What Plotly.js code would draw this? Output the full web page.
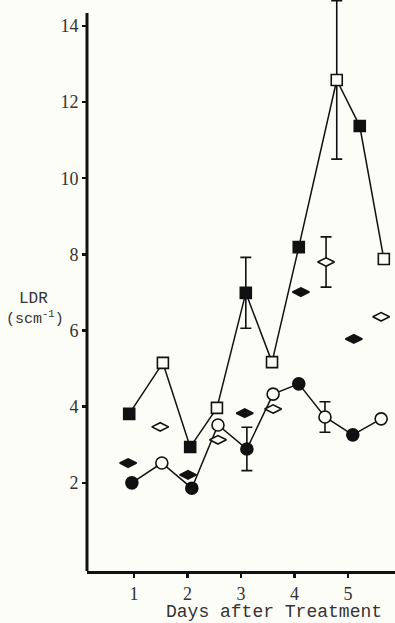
<!DOCTYPE html>
<html>
<head>
<meta charset="utf-8">
<script src="https://cdn.plot.ly/plotly-3.0.1.min.js"></script>
<style>
  html, body { margin: 0; padding: 0; background: #fdfdf7; }
  #chart { width: 395px; height: 623px; }
</style>
</head>
<body>
<div id="chart"></div>
<script>
// ---- Data ----
const dayTicks = [1, 2, 3, 4, 5];
const ldrTicks = [2, 4, 6, 8, 10, 12, 14];

// Squares (joined by a line): filled and open groups
const filledSquareDays = [0.91, 2.05, 3.09, 4.08, 5.22];
const filledSquareLDR  = [3.81, 2.94, 6.99, 8.19, 11.37];
const openSquareDays   = [1.54, 2.55, 3.58, 4.79, 5.67];
const openSquareLDR    = [5.15, 3.97, 5.17, 12.58, 7.88];

// Circles (joined by a line): filled and open groups
const filledCircleDays = [0.96, 2.08, 3.11, 4.08, 5.09];
const filledCircleLDR  = [2.00, 1.86, 2.89, 4.60, 3.26];
const openCircleDays   = [1.52, 2.57, 3.60, 4.57, 5.62];
const openCircleLDR    = [2.52, 3.52, 4.33, 3.73, 3.68];

// Diamonds (no line): filled and open groups
const filledDiamondDays = [0.89, 2.01, 3.07, 4.12, 5.11];
const filledDiamondLDR  = [2.52, 2.21, 3.83, 7.01, 5.78];
const openDiamondDays   = [1.49, 2.57, 3.60, 4.59, 5.62];
const openDiamondLDR    = [3.47, 3.13, 3.94, 7.80, 6.36];

// Error bars (± values)
const errDays = [3.09, 4.79, 3.11, 4.57, 4.59];
const errLDR  = [6.99, 12.58, 2.89, 3.73, 7.80];
const errSize = [0.93, 2.08, 0.57, 0.40, 0.66];

// Axis extent
const yAxisMin = -0.315, yAxisMax = 14.34;

// ---- Build traces ----
function merge(d1, v1, d2, v2) {
  const pts = d1.map((d, i) => [d, v1[i]]).concat(d2.map((d, i) => [d, v2[i]]));
  pts.sort((a, b) => a[0] - b[0]);
  return { x: pts.map(p => p[0]), y: pts.map(p => p[1]) };
}
const sqLine = merge(filledSquareDays, filledSquareLDR, openSquareDays, openSquareLDR);
const ciLine = merge(filledCircleDays, filledCircleLDR, openCircleDays, openCircleLDR);

const BG = '#fdfdf7';
const INK = '#111';

function lineTrace(l) {
  return { x: l.x, y: l.y, type: 'scatter', mode: 'lines',
           line: { color: INK, width: 1.5 }, hoverinfo: 'skip', showlegend: false, cliponaxis: false };
}
function markerTrace(x, y, symbol, fill, size) {
  return { x: x, y: y, type: 'scatter', mode: 'markers', cliponaxis: false, showlegend: false,
           marker: { symbol: symbol, size: size, color: fill, line: { color: INK, width: 1.6 } } };
}

const traces = [
  lineTrace(sqLine),
  lineTrace(ciLine),
  { x: errDays, y: errLDR, type: 'scatter', mode: 'markers', cliponaxis: false, showlegend: false,
    marker: { opacity: 0, size: 2 },
    error_y: { type: 'data', array: errSize, visible: true, color: INK, thickness: 1.6, width: 5.5 } },
  markerTrace(filledSquareDays, filledSquareLDR, 'square', INK, 11),
  markerTrace(openSquareDays, openSquareLDR, 'square', BG, 11),
  markerTrace(filledCircleDays, filledCircleLDR, 'circle', INK, 12),
  markerTrace(openCircleDays, openCircleLDR, 'circle', BG, 12),
  markerTrace(filledDiamondDays, filledDiamondLDR, 'diamond-wide', INK, 12),
  markerTrace(openDiamondDays, openDiamondLDR, 'diamond-wide', BG, 12)
];

const W = 395, H = 623;
const L = 87, R = 0, T = 0, B = 52;
const pw = W - L - R, ph = H - T - B;
function px(x) { return (x - L) / pw; }
function py(y) { return (H - B - y) / ph; }

const tickFont = { family: 'Liberation Serif, serif', size: 18, color: '#333' };

const layout = {
  width: W, height: H,
  margin: { l: L, r: R, t: T, b: B, pad: 0 },
  paper_bgcolor: BG, plot_bgcolor: BG,
  showlegend: false,
  xaxis: {
    range: [0.121, 5.879], tickvals: dayTicks, ticktext: dayTicks.map(String),
    showline: true, linecolor: INK, linewidth: 3, mirror: false,
    ticks: 'outside', ticklen: 4, tickwidth: 2.5, tickcolor: INK,
    showgrid: false, zeroline: false, tickfont: tickFont
  },
  yaxis: {
    range: [yAxisMin, 14.68], tickvals: ldrTicks, ticktext: ldrTicks.map(String),
    showline: false,
    ticks: 'outside', ticklen: 4, tickwidth: 2.5, tickcolor: INK,
    showgrid: false, zeroline: false, tickfont: tickFont
  },
  shapes: [
    { type: 'line', xref: 'paper', yref: 'y', x0: 0, x1: 0, y0: yAxisMin, y1: yAxisMax,
      line: { color: INK, width: 3 } }
  ],
  annotations: [
    { text: 'Days after Treatment', xref: 'paper', yref: 'paper',
      x: px(273.5), y: py(612), xanchor: 'center', yanchor: 'middle', showarrow: false,
      font: { family: 'Liberation Mono, monospace', size: 18, color: '#333' } },
    { text: 'LDR', xref: 'paper', yref: 'paper',
      x: px(33), y: py(299), xanchor: 'center', yanchor: 'middle', showarrow: false,
      font: { family: 'Liberation Mono, monospace', size: 16, color: '#333' } },
    { text: '(scm<sup>-1</sup>)', xref: 'paper', yref: 'paper',
      x: px(35), y: py(318), xanchor: 'center', yanchor: 'middle', showarrow: false,
      font: { family: 'Liberation Mono, monospace', size: 15, color: '#333' } }
  ]
};

Plotly.newPlot('chart', traces, layout, { staticPlot: true, displayModeBar: false });
</script>
</body>
</html>
